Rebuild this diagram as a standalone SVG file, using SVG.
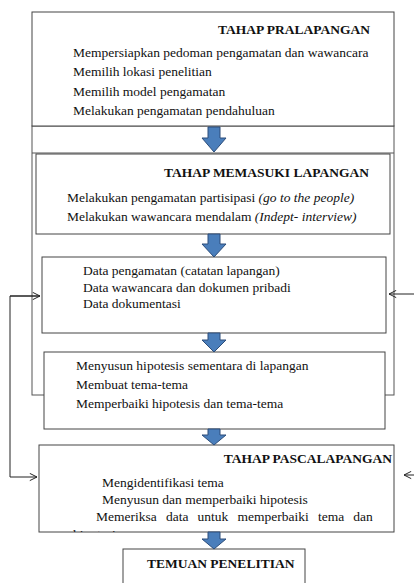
<svg xmlns="http://www.w3.org/2000/svg" width="414" height="583" viewBox="0 0 414 583">
<style>
.box{fill:#fff;stroke:#444;stroke-width:1}
.frame{fill:none;stroke:#555;stroke-width:1}
.t{font-family:"Liberation Serif","Times New Roman",serif;font-size:13.5px;fill:#111}
.b{font-weight:bold}
.i{font-style:italic}
.arr{fill:#4a7ebb;stroke:#2c4d7a;stroke-width:1}
.con{fill:none;stroke:#222;stroke-width:1}
</style>
<defs>
<marker id="open" viewBox="0 0 10 10" refX="9" refY="5" markerWidth="9" markerHeight="9" markerUnits="userSpaceOnUse" orient="auto">
<path d="M1,1 L9,5 L1,9" fill="none" stroke="#222" stroke-width="1.1"/>
</marker>
<clipPath id="pascaClip"><rect x="39" y="445" width="355" height="87"/></clipPath>
</defs>

<g id="frame-lapangan">
<rect class="frame" x="32" y="126" width="362" height="269"/>
<line class="frame" x1="32" y1="153" x2="394" y2="153"/>
</g>

<g id="pralapangan">
<rect class="box" x="32" y="12" width="362" height="114"/>
<text class="t b" x="370" y="34" text-anchor="end">TAHAP PRALAPANGAN</text>
<text class="t" x="73" y="57">Mempersiapkan pedoman pengamatan dan wawancara</text>
<text class="t" x="73" y="76">Memilih lokasi penelitian</text>
<text class="t" x="73" y="96">Memilih model pengamatan</text>
<text class="t" x="73" y="115">Melakukan pengamatan pendahuluan</text>
</g>

<g id="memasuki">
<rect class="box" x="36" y="154" width="354" height="80"/>
<text class="t b" x="369" y="177" text-anchor="end">TAHAP MEMASUKI LAPANGAN</text>
<text class="t" x="67" y="202">Melakukan pengamatan partisipasi <tspan class="i">(go to the people)</tspan></text>
<text class="t" x="67" y="221">Melakukan wawancara mendalam <tspan class="i">(Indept- interview)</tspan></text>
</g>

<g id="data">
<rect class="box" x="42" y="257" width="344" height="76"/>
<text class="t" x="83" y="275">Data pengamatan (catatan lapangan)</text>
<text class="t" x="83" y="292">Data wawancara dan dokumen pribadi</text>
<text class="t" x="83" y="308">Data dokumentasi</text>
</g>

<g id="hipotesis">
<rect class="box" x="44" y="352" width="341" height="77"/>
<text class="t" x="76" y="370">Menyusun hipotesis sementara di lapangan</text>
<text class="t" x="76" y="389">Membuat tema-tema</text>
<text class="t" x="76" y="408">Memperbaiki hipotesis dan tema-tema</text>
</g>

<g id="pascalapangan">
<rect class="box" x="39" y="445" width="355" height="87"/>
<text class="t b" x="392" y="463" text-anchor="end">TAHAP PASCALAPANGAN</text>
<text class="t" x="102" y="487">Mengidentifikasi tema</text>
<text class="t" x="102" y="504">Menyusun dan memperbaiki hipotesis</text>
<text class="t" x="96" y="521" word-spacing="5.8">Memeriksa data untuk memperbaiki tema dan</text>
<text class="t" x="73" y="539" clip-path="url(#pascaClip)">hipotesis</text>
</g>

<g id="temuan">
<rect class="box" x="123" y="549" width="182" height="40"/>
<text class="t b" x="147" y="568">TEMUAN PENELITIAN</text>
</g>

<g id="connectors">
<path class="arr" d="M208,127 H220 V138 H226 L214,152 L202,138 H208 Z"/>
<path class="arr" d="M208,234 H220 V244 H226 L214,257 L202,244 H208 Z"/>
<path class="arr" d="M208,333 H220 V340 H226 L214,352 L202,340 H208 Z"/>
<path class="arr" d="M208,429 H220 V435 H226 L214,445 L202,435 H208 Z"/>
<path class="arr" d="M208,532 H220 V539 H226 L214,549 L202,539 H208 Z"/>
<path class="con" d="M40,296 H10 V477 H37" marker-end="url(#open)"/>
<path class="con" d="M10,296 H40" marker-end="url(#open)"/>
<path class="con" d="M420,294 H389" marker-end="url(#open)"/>
<path class="con" d="M420,475 H404" marker-end="url(#open)"/>
</g>
</svg>
